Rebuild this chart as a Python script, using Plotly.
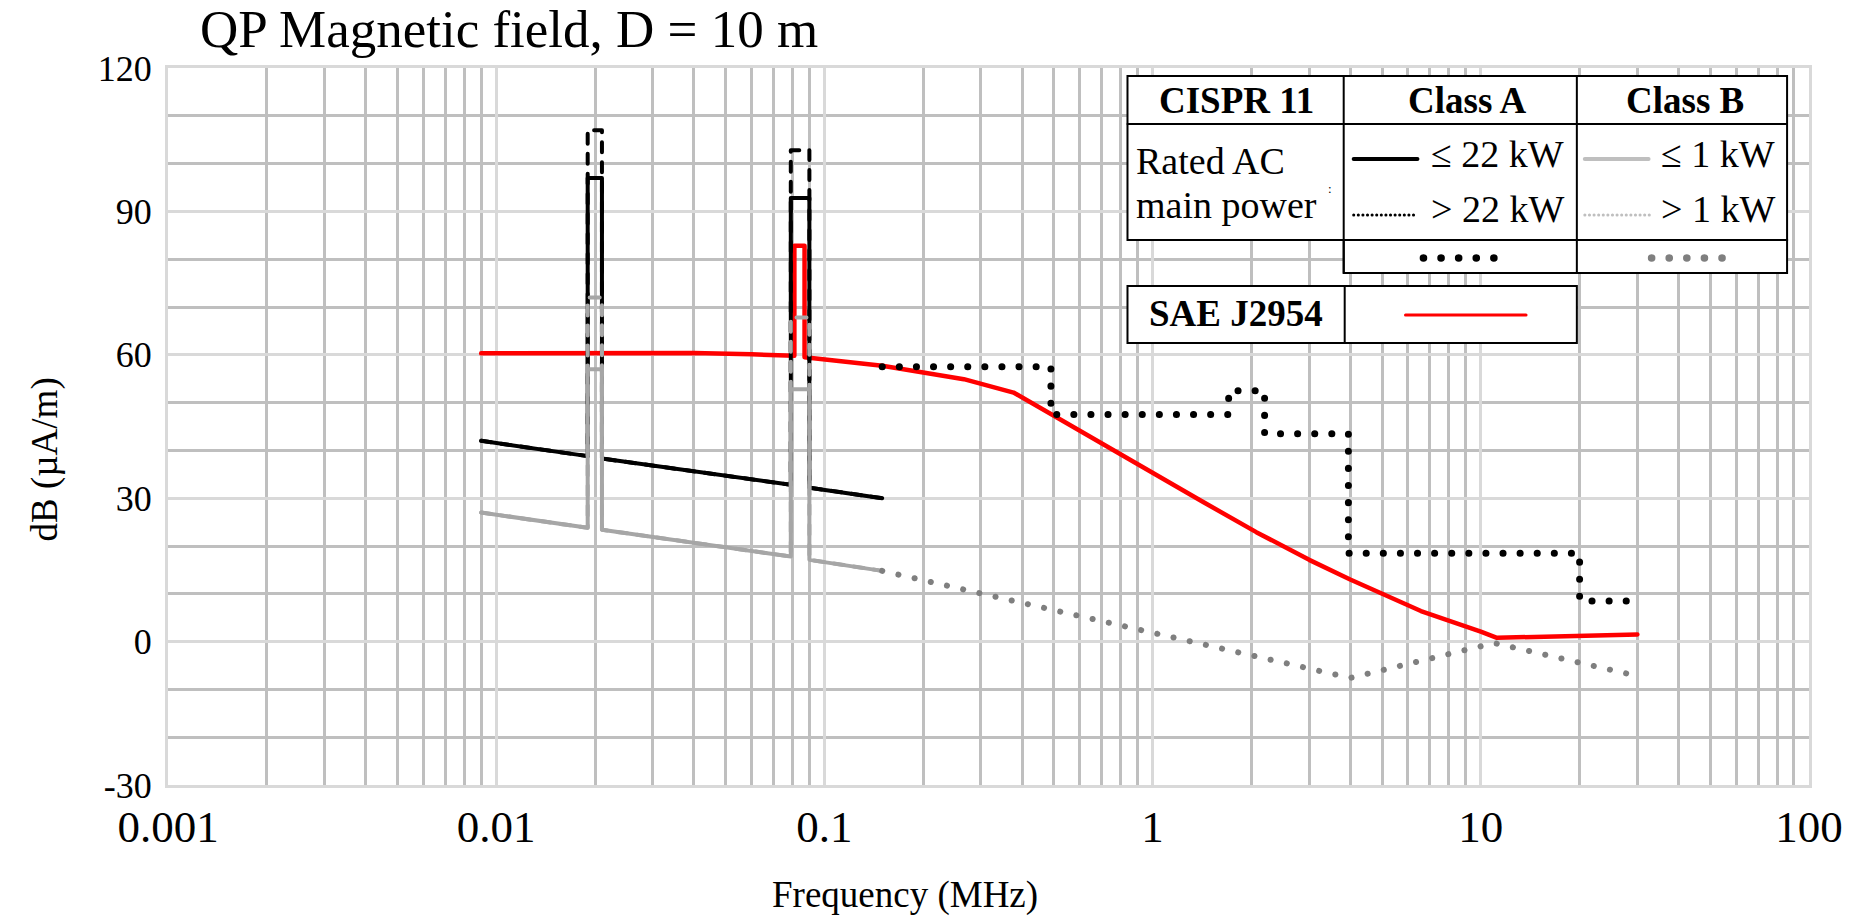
import plotly.graph_objects as go

# ---------------- data ----------------
# SAE J2954 limit (red)
sae_f = [0.009, 0.02, 0.04, 0.06, 0.081, 0.081, 0.087, 0.087, 0.1, 0.126, 0.15, 0.2, 0.266,
         0.377, 0.5, 0.6, 0.805, 1.0, 1.426, 2.07, 3.0, 4.0, 5.0, 6.57, 10.0, 11.2, 30.0]
sae_db = [60.3, 60.4, 60.4, 60.1, 59.8, 82.8, 82.8, 59.5, 59.1, 58.4, 57.7, 56.3, 54.9,
          52.1, 47.2, 44.3, 39.0, 35.3, 29.2, 22.9, 17.1, 13.0, 10.0, 6.4, 2.1, 0.8, 1.5]

# CISPR 11, 9 kHz - 150 kHz
lf_f = [0.009, 0.019, 0.019, 0.021, 0.021, 0.079, 0.079, 0.09, 0.09, 0.15]
classA_le22_db = [42.0, 38.8, 97.0, 97.0, 38.3, 32.8, 92.8, 92.8, 32.2, 30.0]
classA_gt22_db = [42.0, 38.8, 107.0, 107.0, 38.3, 32.8, 102.8, 102.8, 32.2, 30.0]
classB_le1_db = [27.0, 23.8, 57.0, 57.0, 23.4, 17.8, 52.8, 52.8, 17.1, 14.8]
classB_gt1_db = [27.0, 23.8, 72.0, 72.0, 23.4, 17.8, 67.8, 67.8, 17.1, 14.8]

# CISPR 11, 150 kHz - 30 MHz
classA_hf_f = [0.15, 0.49, 0.49, 1.705, 1.705, 2.194, 2.194, 3.95, 3.95, 20.0, 20.0, 30.0]
classA_hf_db = [57.5, 57.5, 47.5, 47.5, 52.5, 52.5, 43.5, 43.5, 18.5, 18.5, 8.5, 8.5]
classB_hf_f = [0.15, 4.0, 11.0, 30.0]
classB_hf_db = [14.8, -7.6, -0.3, -7.2]

x_tickvals = [0.001, 0.01, 0.1, 1, 10, 100]
x_ticktext = ["0.001", "0.01", "0.1", "1", "10", "100"]
y_tickvals = [-30, 0, 30, 60, 90, 120]
y_ticktext = ["-30", "0", "30", "60", "90", "120"]

title_text = "QP Magnetic field, D = 10 m"
x_title = "Frequency (MHz)"
y_title = "dB (µA/m)"

# ---------------- layout helpers ----------------
FONT = "Liberation Serif"
W, H = 1855, 917
L, R, T, B = 168, 1815, 68, 785


def px(X):
    return (X - L) / (R - L)


def py(Y):
    return (B - Y) / (B - T)


fig = go.Figure()

BLACK = "#000000"
GRAY = "#a6a6a6"
DGRAY = "#7f7f7f"
RED = "#ff0000"

fig.add_trace(go.Scatter(x=sae_f, y=sae_db, mode="lines",
                         line=dict(color=RED, width=4.5), hoverinfo="skip"))
fig.add_trace(go.Scatter(x=lf_f, y=classA_le22_db, mode="lines",
                         line=dict(color=BLACK, width=4), hoverinfo="skip"))
fig.add_trace(go.Scatter(x=lf_f, y=classA_gt22_db, mode="lines",
                         line=dict(color=BLACK, width=4, dash="10px,10px"), hoverinfo="skip"))
fig.add_trace(go.Scatter(x=lf_f, y=classB_le1_db, mode="lines",
                         line=dict(color=GRAY, width=4), hoverinfo="skip"))
fig.add_trace(go.Scatter(x=lf_f, y=classB_gt1_db, mode="lines",
                         line=dict(color=GRAY, width=4, dash="10px,10px"), hoverinfo="skip"))
fig.add_trace(go.Scatter(x=classA_hf_f, y=classA_hf_db, mode="lines",
                         line=dict(color=BLACK, width=7, dash="0.1px,17px"), hoverinfo="skip"))
fig.add_trace(go.Scatter(x=classB_hf_f, y=classB_hf_db, mode="lines",
                         line=dict(color=DGRAY, width=6, dash="0.1px,16.5px"), hoverinfo="skip"))

fig.update_xaxes(
    type="log", range=[-3, 2],
    tickmode="array", tickvals=x_tickvals, ticktext=x_ticktext,
    tickfont=dict(family=FONT, size=45, color="black"), ticks="", ticklabelstandoff=0,
    showgrid=True, gridcolor="#d9d9d9", gridwidth=3,
    minor=dict(dtick="D1", showgrid=True, gridcolor="#bfbfbf", gridwidth=3),
    showline=True, linecolor="#d9d9d9", linewidth=3, mirror=True,
    zeroline=False,
)
fig.update_yaxes(
    range=[-30, 120],
    tickmode="array", tickvals=y_tickvals, ticktext=y_ticktext,
    tickfont=dict(family=FONT, size=36, color="black"), ticks="", ticklabelstandoff=6,
    showgrid=True, gridcolor="#d9d9d9", gridwidth=3,
    minor=dict(tickmode="linear", tick0=0, dtick=10, showgrid=True,
               gridcolor="#bfbfbf", gridwidth=3),
    showline=True, linecolor="#d9d9d9", linewidth=3, mirror=True,
    zeroline=False,
)

shapes = []
ann = []


def rect(x0, y0, x1, y1):
    shapes.append(dict(type="rect", xref="paper", yref="paper",
                       x0=px(x0), x1=px(x1), y0=py(y1), y1=py(y0),
                       fillcolor="white", line=dict(color="black", width=2)))


def hline(x0, x1, y, color="black", width=2, dash=None):
    d = dict(color=color, width=width)
    if dash:
        d["dash"] = dash
    shapes.append(dict(type="line", xref="paper", yref="paper",
                       x0=px(x0), x1=px(x1), y0=py(y), y1=py(y), line=d))


def vline(x, y0, y1):
    shapes.append(dict(type="line", xref="paper", yref="paper",
                       x0=px(x), x1=px(x), y0=py(y0), y1=py(y1),
                       line=dict(color="black", width=2)))


def text(s, x, y, size, anchor="center", angle=0):
    ann.append(dict(text=s, xref="paper", yref="paper", x=px(x), y=py(y),
                    xanchor=anchor, yanchor="middle", showarrow=False,
                    textangle=angle,
                    font=dict(family=FONT, size=size, color="black")))


# legend table (CISPR 11)
rect(1131, 76, 1793, 240)
rect(1348, 240, 1793, 273)
hline(1131, 1793, 124)
vline(1348, 76, 273)
vline(1582, 76, 273)
# SAE box
rect(1131, 286, 1582, 343)
vline(1349, 286, 343)

text("<b>CISPR 11</b>", 1240, 100.5, 37)
text("<b>Class A</b>", 1472, 100.5, 37)
text("<b>Class B</b>", 1691, 100.5, 37)
text("Rated AC", 1138, 161, 38, "left")
text("main power", 1138, 205, 38, "left")
text(":", 1334, 188, 13)
text("≤ 22 kW", 1571, 154, 38, "right")
text("> 22 kW", 1571, 209, 38, "right")
text("≤ 1 kW", 1783, 154, 38, "right")
text("> 1 kW", 1783, 209, 38, "right")
text("<b>SAE J2954</b>", 1240, 313, 37)

hline(1358, 1422, 159, BLACK, 4)
hline(1358, 1422, 215, BLACK, 3, "0.1px,4.5px")
hline(1590, 1654, 159, "#bfbfbf", 4)
hline(1590, 1655, 215, "#bfbfbf", 3, "0.1px,4.5px")
hline(1428, 1500, 258, BLACK, 7.5, "0.1px,17.5px")
hline(1657, 1729, 258, DGRAY, 7.5, "0.1px,17.5px")
hline(1410, 1531, 315, RED, 3)

# titles
text(title_text, 198, 29, 53, "left")
text(x_title, 908, 895, 37)
text(y_title, 45, 459, 37, angle=-90)

fig.update_layout(
    width=W, height=H, autosize=False,
    margin=dict(l=L, r=W - R, t=T, b=H - B, pad=0),
    paper_bgcolor="white", plot_bgcolor="white",
    showlegend=False,
    shapes=shapes, annotations=ann,
    font=dict(family=FONT, color="black"),
)

js = ("var s=document.createElement('style');"
      "s.innerHTML='body{margin:0;overflow:hidden} "
      ".scatterlayer path.js-line{stroke-linecap:round;stroke-linejoin:round} "
      ".shapelayer path{stroke-linecap:round}';"
      "document.head.appendChild(s);")

fig.write_html("out.html", post_script=js, config={"displayModeBar": False})
